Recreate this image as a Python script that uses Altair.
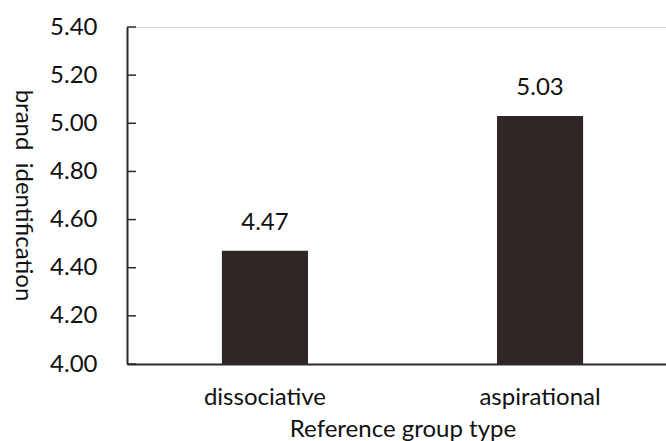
import altair as alt
import pandas as pd

# Mean brand identification by reference group type
groups = ["dissociative", "aspirational"]
means = [4.47, 5.03]
y_ticks = [4.00, 4.20, 4.40, 4.60, 4.80, 5.00, 5.20, 5.40]

FONT = "Lato"
FS = 24
BAR_COLOR = "#2f2725"
AXIS_COLOR = "#2b2b2b"
TEXT_COLOR = "#111111"

df = pd.DataFrame({"group": groups, "mean": means})
ticks_df = pd.DataFrame({"tick": y_ticks})

x_enc = alt.X(
    "group:N",
    sort=groups,
    scale=alt.Scale(paddingInner=0.687, paddingOuter=0.345, range=[0, 551]),
    axis=alt.Axis(
        title="Reference group type",
        titleFont=FONT,
        titleFontSize=FS,
        titleFontWeight="normal",
        titleColor=TEXT_COLOR,
        titleY=72,
        titleBaseline="alphabetic",
        labelFont=FONT,
        labelFontSize=FS,
        labelColor=TEXT_COLOR,
        labelPadding=40,
        labelBaseline="alphabetic",
        labelAngle=0,
        ticks=False,
        domainColor=AXIS_COLOR,
        domainWidth=2,
    ),
)

y_scale = alt.Scale(domain=[4.0, 5.4], zero=False, nice=False)

y_axis = alt.Axis(
    values=y_ticks,
    format=".2f",
    title="brand\u00a0 identification",
    titleAngle=90,
    titleFont=FONT,
    titleFontSize=FS,
    titleFontWeight="normal",
    titleColor=TEXT_COLOR,
    titleX=-105,
    titleY=168,
    titleAlign="center",
    titleBaseline="middle",
    labelFont=FONT,
    labelFontSize=FS,
    labelColor=TEXT_COLOR,
    labelPadding=30,
    ticks=False,
    grid=False,
    domainColor=AXIS_COLOR,
    domainWidth=2,
)

bars = alt.Chart(df).mark_bar(color=BAR_COLOR).encode(
    x=x_enc,
    y=alt.Y("mean:Q", scale=y_scale, axis=y_axis),
    y2=alt.datum(4.0),
)

labels = alt.Chart(df).mark_text(
    font=FONT, fontSize=FS, color=TEXT_COLOR, baseline="alphabetic", dy=-21
).encode(
    x=alt.X("group:N", sort=groups),
    y=alt.Y("mean:Q"),
    text=alt.Text("mean:Q", format=".2f"),
)

# short inward tick marks on the value axis
tick_marks = alt.Chart(ticks_df).mark_rule(color=AXIS_COLOR, strokeWidth=1.5).encode(
    y=alt.Y("tick:Q"),
    x=alt.value(0),
    x2=alt.value(9),
)

chart = (
    alt.layer(bars, labels, tick_marks)
    .properties(
        width=539,
        height=337,
        autosize=alt.AutoSizeParams(type="none"),
        padding={"left": 127, "top": 27, "right": 0, "bottom": 77},
    )
    .configure_view(strokeWidth=0, stroke="transparent")
    .configure_axis(grid=False)
    .configure(background="white")
)

chart.save("out.html", embed_options={"renderer": "svg", "actions": False})
